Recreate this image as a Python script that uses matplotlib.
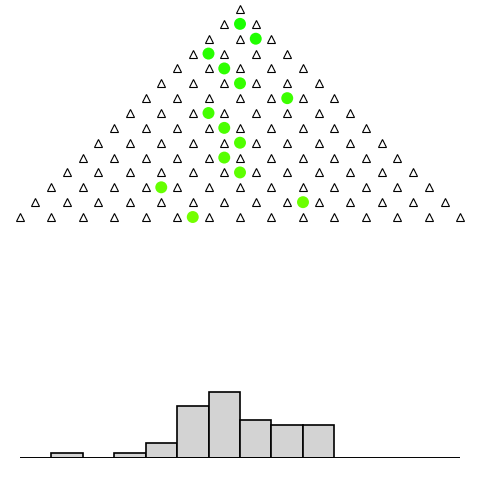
import matplotlib
matplotlib.use("Agg")
import matplotlib.pyplot as plt
import numpy as np

# Galton board: number of peg rows
n_rows = 15
# ball positions (offset from centre, in peg spacings) for rows 1..14
ball_rows = [1, 2, 3, 4, 5, 6, 7, 8, 9, 10, 11, 12, 13, 14]
ball_x = [0.0, 0.5, -1.0, -0.5, 0.0, 1.5, -1.0, -0.5, 0.0, -0.5, 0.0, -2.5, 2.0, -1.5]
# histogram of landed balls (bin centres and counts)
bin_centers = [-6.5, -5.5, -4.5, -3.5, -2.5, -1.5, -0.5, 0.5, 1.5, 2.5, 3.5, 4.5, 5.5, 6.5]
bin_counts = [0, 1, 0, 1, 3, 11, 14, 8, 7, 7, 0, 0, 0, 0]

fig = plt.figure(figsize=(4.8, 4.8), dpi=100)
XL = (-7.62, 7.62)

ax = fig.add_axes([0, 0, 1, 1])
ax.set_xlim(*XL)
ax.set_ylim(-31.70, 0.606)
ax.axis("off")

px, py = [], []
for r in range(n_rows):
    for j in range(r + 1):
        px.append(-r / 2 + j)
        py.append(-r)
ax.plot(px, py, linestyle="none", marker="^", markersize=5.6, mfc="none",
        mec="black", mew=0.8)

n = len(ball_rows)
cols = [(0.10 + 0.35 * i / (n - 1), 1.0, 0.0) for i in range(n)]
ax.scatter(ball_x, [-r for r in ball_rows], s=8.6 ** 2, c=cols, edgecolors="none", zorder=3)

hx = fig.add_axes([0, 22.5 / 480, 1, 0.2])
hx.set_xlim(*XL)
hx.set_ylim(0, 96 / 4.71)
hx.axis("off")
bc = [c for c, k in zip(bin_centers, bin_counts) if k > 0]
bk = [k for k in bin_counts if k > 0]
hx.bar(bc, bk, width=1.0, color="#d3d3d3", edgecolor="black", linewidth=1.2)
hx.plot([-7, 7], [0, 0], color="black", linewidth=1.4, solid_capstyle="butt")

fig.savefig("out.png", dpi=100)
